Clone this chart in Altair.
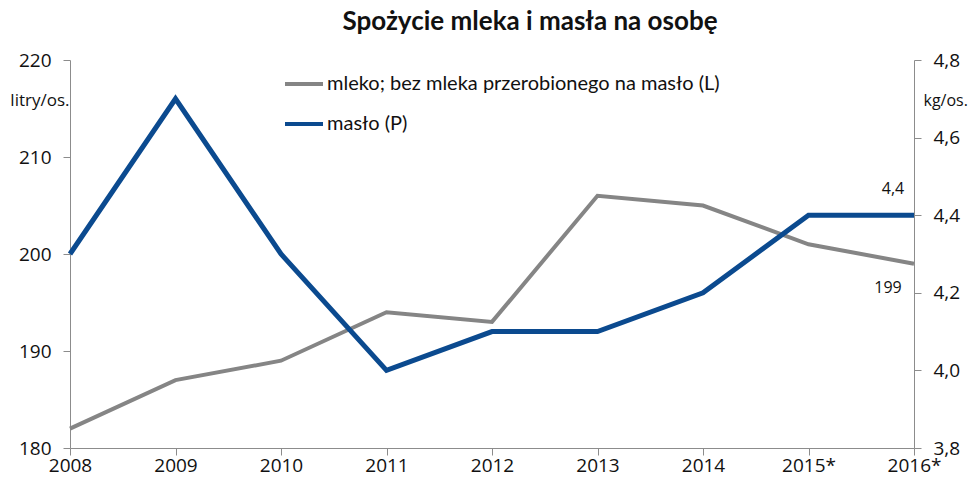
import altair as alt
import pandas as pd

years = ["2008", "2009", "2010", "2011", "2012", "2013", "2014", "2015*", "2016*"]
milk = [182, 187, 189, 194, 193, 206, 205, 201, 199]
butter = [4.3, 4.7, 4.3, 4.0, 4.1, 4.1, 4.2, 4.4, 4.4]
milk_name = "mleko; bez mleka przerobionego na masło (L)"
butter_name = "masło (P)"
left_ticks = [180, 190, 200, 210, 220]
right_ticks = [3.8, 4.0, 4.2, 4.4, 4.6, 4.8]

df_m = pd.DataFrame({"rok": years, "v": milk, "s": milk_name})
df_b = pd.DataFrame({"rok": years, "v": butter, "s": butter_name})
df_ml = pd.DataFrame({"rok": [years[-1]], "v": [milk[-1]], "t": ["199"]})
df_bl = pd.DataFrame({"rok": [years[-1]], "v": [butter[-1]], "t": ["4,4"]})

FONT = "Open Sans"
GRAY = "#858585"
BLUE = "#0b4a8f"
AX = "#8c8c8c"

xenc = alt.X("rok:N", sort=years, scale=alt.Scale(type="point", padding=0),
             axis=alt.Axis(title=None, labelAngle=0, labelFontSize=19, labelFont=FONT,
                           labelColor="#111", labelPadding=1, tickSize=7, tickColor=AX,
                           domainColor=AX, grid=False))

color = alt.Color("s:N", scale=alt.Scale(domain=[milk_name, butter_name], range=[GRAY, BLUE]),
                  legend=alt.Legend(title=None, orient="none", legendX=213, legendY=3,
                                    symbolType="stroke", symbolSize=1444, symbolStrokeWidth=4,
                                    labelFontSize=20, labelFont="Lato", labelColor="#111",
                                    labelLimit=0, rowPadding=9, labelOffset=2))

yl = alt.Y("v:Q", scale=alt.Scale(domain=[180, 220], nice=False, zero=False),
           axis=alt.Axis(orient="left", values=left_ticks, title="litry/os.", titleAngle=0,
                         titleX=-1, titleY=40, titleAlign="right", titleBaseline="middle",
                         titleFont=FONT, titleFontSize=17, titleFontWeight="normal",
                         titleColor="#111", labelFontSize=19, labelFont=FONT, labelColor="#111",
                         labelPadding=12, tickSize=7, tickColor=AX, domainColor=AX, grid=False))

yr = alt.Y("v:Q", scale=alt.Scale(domain=[3.8, 4.8], nice=False, zero=False),
           axis=alt.Axis(orient="right", values=right_ticks, title="kg/os.", titleAngle=0,
                         titleX=9, titleY=40, titleAlign="left", titleBaseline="middle",
                         titleFont=FONT, titleFontSize=16, titleFontWeight="normal",
                         titleColor="#111", labelFontSize=19, labelFont=FONT, labelColor="#111",
                         labelPadding=12, tickSize=7, tickColor=AX, domainColor=AX, grid=False,
                         labelExpr="replace(format(datum.value, '.1f'), '.', ',')"))

milk_line = alt.Chart(df_m).mark_line(strokeWidth=4).encode(x=xenc, y=yl, color=color)
milk_lab = alt.Chart(df_ml).mark_text(font=FONT, fontSize=16, color="#111", dx=-26, dy=24).encode(
    x=alt.X("rok:N", sort=years), y=alt.Y("v:Q"), text="t:N")
left = alt.layer(milk_line, milk_lab)

butter_line = alt.Chart(df_b).mark_line(strokeWidth=5).encode(x=xenc, y=yr, color=color)
butter_lab = alt.Chart(df_bl).mark_text(font=FONT, fontSize=16, color="#111", dx=-21, dy=-26).encode(
    x=alt.X("rok:N", sort=years), y=alt.Y("v:Q"), text="t:N")
right = alt.layer(butter_line, butter_lab)

chart = alt.layer(left, right).resolve_scale(y="independent").properties(
    width=844, height=388,
    autosize=alt.AutoSizeParams(type="none"),
    padding={"left": 62, "top": 52, "right": 54, "bottom": 28},
    title=alt.TitleParams("Spożycie mleka i masła na osobę", font="Lato", fontSize=26,
                          fontWeight="bold", color="#111", anchor="middle", dx=38, offset=16),
).configure_view(stroke=None)

chart.save("out.html", embed_options={"renderer": "svg", "actions": False})
